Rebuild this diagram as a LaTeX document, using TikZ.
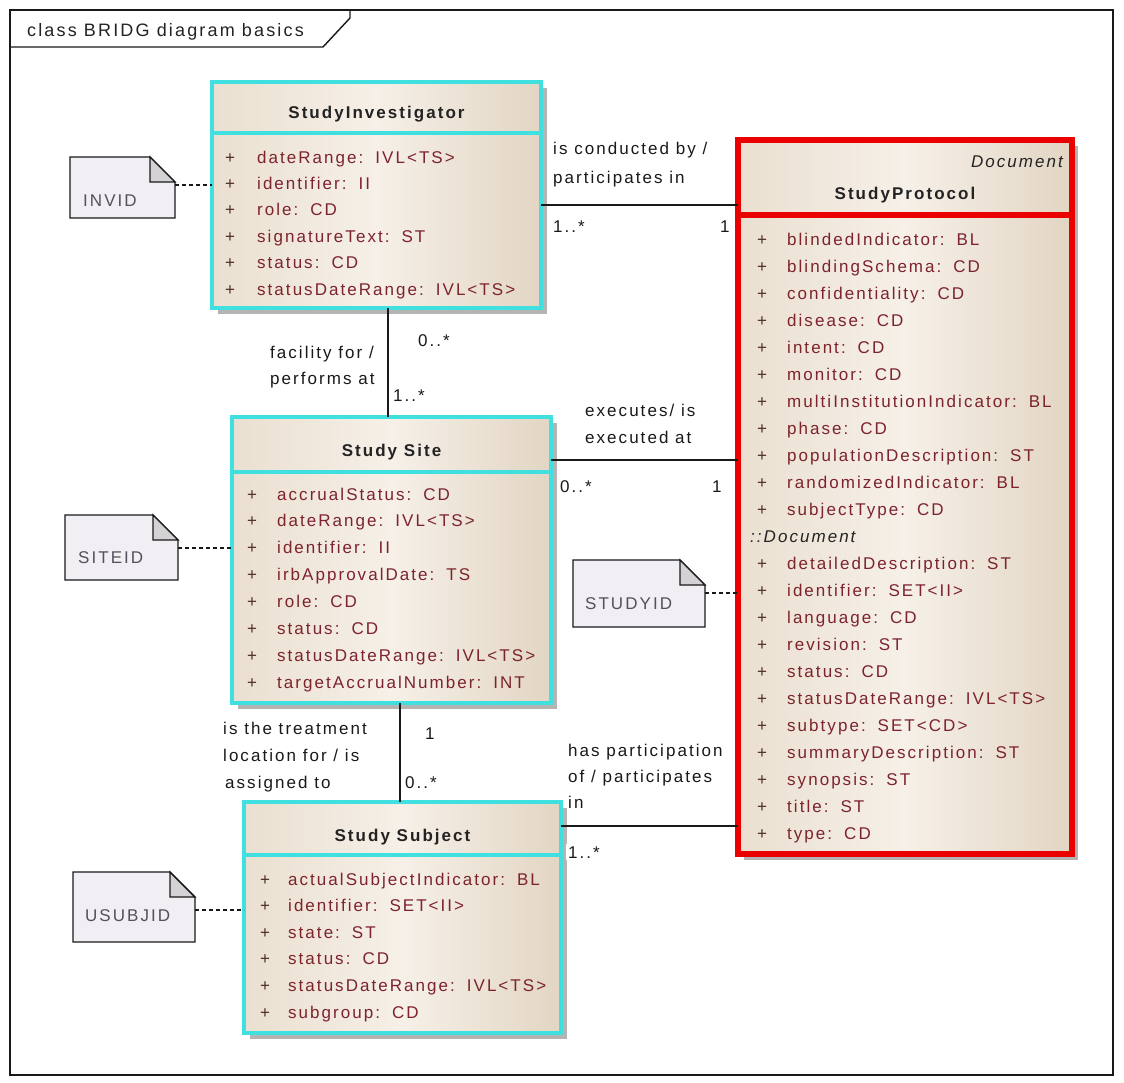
\documentclass[tikz,border=0pt]{standalone}
\usepackage{fontspec}
\setmainfont{Liberation Sans}[LetterSpace=12]
\usetikzlibrary{shadows}

\definecolor{umlcyan}{RGB}{64,224,224}
\definecolor{umlred}{RGB}{235,0,0}
\definecolor{boxA}{RGB}{234,223,208}
\definecolor{boxC}{RGB}{246,240,232}
\definecolor{boxB}{RGB}{226,213,195}
\definecolor{shadowgray}{RGB}{175,172,170}
\definecolor{attrcol}{RGB}{125,35,45}
\definecolor{pluscol}{RGB}{80,45,40}
\definecolor{titlecol}{RGB}{35,35,35}
\definecolor{notefill}{RGB}{241,239,243}
\definecolor{foldfill}{RGB}{212,210,212}
\definecolor{notetext}{RGB}{85,80,92}
\definecolor{linecol}{RGB}{25,25,25}

\newcommand\gap{\hspace*{12pt}}

% one row per attribute: #1 prefix, #2 x of "+", #3 x of name, #4 first baseline, #5 row step, #6 list
\newcommand\attrlist[6]{%
  \foreach \entry [count=\k from 0] in {#6}{%
    \pgfmathsetmacro\rowy{#4+#5*\k}%
    \node[aplus] (#1p\k) at (#2,\rowy) {+};
    \node[attr] (#1a\k) at (#3,\rowy) {\entry};
  }}

% dog-eared note outline around a named node
\newcommand\noteshape[1]{%
  \filldraw[noteline, fill=notefill] (#1.north west) -- ([xshift=-25pt]#1.north east)
    -- ([yshift=-25pt]#1.north east) -- (#1.south east) -- (#1.south west) -- cycle;
  \filldraw[noteline, fill=foldfill] ([xshift=-25pt]#1.north east)
    -- ([xshift=-25pt,yshift=-25pt]#1.north east) -- ([yshift=-25pt]#1.north east) -- cycle;}

\begin{document}
\begin{tikzpicture}[x=1pt,y=-1pt,
  font=\fontsize{17}{20}\selectfont,
  classbox/.style={rectangle, inner sep=0pt, outer sep=0pt, anchor=north west,
    left color=boxA, right color=boxB, middle color=boxC,
    drop shadow={shadow xshift=6pt, shadow yshift=-6pt, fill=shadowgray, opacity=0.9}},
  cyanbox/.style={classbox, draw=umlcyan, line width=4pt},
  redbox/.style={classbox, draw=umlred, line width=6pt},
  cyansep/.style={draw=umlcyan, line width=4pt},
  redsep/.style={draw=umlred, line width=6pt},
  attr/.style={anchor=base west, inner sep=0pt, text=attrcol},
  aplus/.style={anchor=base west, inner sep=0pt, text=pluscol},
  ctitle/.style={anchor=base, inner sep=0pt, font=\fontsize{17}{20}\selectfont\bfseries, text=titlecol},
  assoc/.style={draw=linecol, line width=1.4pt},
  notelink/.style={draw=linecol, line width=1.4pt, dash pattern=on 4pt off 3pt},
  noteline/.style={draw=linecol, line width=1.4pt, line join=miter},
  notebox/.style={rectangle, inner sep=0pt, outer sep=0pt, anchor=north west},
  notelbl/.style={anchor=base west, inner sep=0pt, text=notetext},
  lbl/.style={anchor=base west, inner sep=0pt, text=linecol},
  mult/.style={anchor=base west, inner sep=2pt, fill=white, text=linecol},
  frameline/.style={draw=linecol, line width=1.4pt}
]
\useasboundingbox (0,0) rectangle (1124,1082);
\fill[white] (0,0) rectangle (1124,1082);

% diagram frame and its name tab
\draw[frameline] (10,10) rectangle (1113,1075);
\draw[frameline] (10,47) -- (323,47) -- (350,18) -- (350,10);
\node[anchor=base west, inner sep=0pt, text=titlecol, font=\fontsize{18}{21}\selectfont] (frametitle) at (27,36) {class BRIDG diagram basics};

% class boxes
\node[cyanbox, minimum width=329pt, minimum height=226pt] (inv) at (212,82) {};
\draw[cyansep] ([yshift=-51pt]inv.north west) -- ([yshift=-51pt]inv.north east);
\node[ctitle] (invt) at (376.5,118) {StudyInvestigator};
\attrlist{inv}{225}{257}{163}{26.4}{dateRange:\gap IVL<TS>, identifier:\gap II, role:\gap CD,
  signatureText:\gap ST, status:\gap CD, statusDateRange:\gap IVL<TS>}

\node[cyanbox, minimum width=319pt, minimum height=286pt] (site) at (232,417) {};
\draw[cyansep] ([yshift=-55pt]site.north west) -- ([yshift=-55pt]site.north east);
\node[ctitle] (sitet) at (391.5,456) {Study Site};
\attrlist{site}{247}{277}{500}{26.9}{accrualStatus:\gap CD, dateRange:\gap IVL<TS>, identifier:\gap II,
  irbApprovalDate:\gap TS, role:\gap CD, status:\gap CD, statusDateRange:\gap IVL<TS>,
  targetAccrualNumber:\gap INT}

\node[cyanbox, minimum width=317pt, minimum height=231pt] (subj) at (244,802) {};
\draw[cyansep] ([yshift=-53pt]subj.north west) -- ([yshift=-53pt]subj.north east);
\node[ctitle] (subjt) at (402.5,841) {Study Subject};
\attrlist{subj}{260}{288}{885}{26.6}{actualSubjectIndicator:\gap BL, identifier:\gap SET<II>,
  state:\gap ST, status:\gap CD, statusDateRange:\gap IVL<TS>, subgroup:\gap CD}

\node[redbox, minimum width=334pt, minimum height=714pt] (proto) at (738,140) {};
\draw[redsep] ([yshift=-75pt]proto.north west) -- ([yshift=-75pt]proto.north east);
\node[anchor=base east, inner sep=0pt, text=titlecol, font=\fontsize{17}{20}\selectfont\itshape] (protos) at (1063,167) {Document};
\node[ctitle] (protot) at (905,199) {StudyProtocol};
\attrlist{protoA}{757}{787}{245}{27}{blindedIndicator:\gap BL, blindingSchema:\gap CD,
  confidentiality:\gap CD, disease:\gap CD, intent:\gap CD, monitor:\gap CD,
  multiInstitutionIndicator:\gap BL, phase:\gap CD, populationDescription:\gap ST,
  randomizedIndicator:\gap BL, subjectType:\gap CD}
\node[anchor=base west, inner sep=0pt, text=titlecol, font=\fontsize{17}{20}\selectfont\itshape] (protoinh) at (750,542) {::Document};
\attrlist{protoB}{757}{787}{569}{27}{detailedDescription:\gap ST, identifier:\gap SET<II>,
  language:\gap CD, revision:\gap ST, status:\gap CD, statusDateRange:\gap IVL<TS>,
  subtype:\gap SET<CD>, summaryDescription:\gap ST, synopsis:\gap ST, title:\gap ST, type:\gap CD}

% notes
\node[notebox, minimum width=105pt, minimum height=61pt] (invid) at (70,157) {};
\noteshape{invid}
\node[notelbl] (invidt) at (83,206) {INVID};
\node[notebox, minimum width=113pt, minimum height=65pt] (siteid) at (65,515) {};
\noteshape{siteid}
\node[notelbl] (siteidt) at (78,563) {SITEID};
\node[notebox, minimum width=132pt, minimum height=67pt] (studyid) at (573,560) {};
\noteshape{studyid}
\node[notelbl] (studyidt) at (585,609) {STUDYID};
\node[notebox, minimum width=122pt, minimum height=70pt] (usubjid) at (73,872) {};
\noteshape{usubjid}
\node[notelbl] (usubjidt) at (85,921) {USUBJID};

% note links
\draw[notelink] ([yshift=-28pt]invid.north east) -- ([yshift=-28pt]invid.north east -| inv.west);
\draw[notelink] ([yshift=-33pt]siteid.north east) -- ([yshift=-33pt]siteid.north east -| site.west);
\draw[notelink] ([yshift=-33pt]studyid.north east) -- ([yshift=-33pt]studyid.north east -| proto.west);
\draw[notelink] ([yshift=-38pt]usubjid.north east) -- ([yshift=-38pt]usubjid.north east -| subj.west);

% associations
\draw[assoc] ([yshift=-123pt]inv.north east) -- ([yshift=-123pt]inv.north east -| proto.west);
\draw[assoc] ([xshift=11.5pt]inv.south) -- ([xshift=11.5pt]inv.south |- site.north);
\draw[assoc] ([yshift=-43pt]site.north east) -- ([yshift=-43pt]site.north east -| proto.west);
\draw[assoc] ([xshift=8.5pt]site.south) -- ([xshift=8.5pt]site.south |- subj.north);
\draw[assoc] ([yshift=-24pt]subj.north east) -- ([yshift=-24pt]subj.north east -| proto.west);

% association labels
\node[lbl] (l1a) at (553,154) {is conducted by /};
\node[lbl] (l1b) at (553,183) {participates in};
\node[mult] (m1a) at (551,232) {1..*};
\node[mult] (m1b) at (718,232) {1};

\node[lbl] (l2a) at (270,358) {facility for /};
\node[lbl] (l2b) at (270,384) {performs at};
\node[mult] (m2a) at (416,346) {0..*};
\node[mult] (m2b) at (391,401) {1..*};

\node[lbl] (l3a) at (585,416) {executes/ is};
\node[lbl] (l3b) at (585,443) {executed at};
\node[mult] (m3a) at (558,492) {0..*};
\node[mult] (m3b) at (710,492) {1};

\node[lbl] (l4a) at (223,734) {is the treatment};
\node[lbl] (l4b) at (223,761) {location for / is};
\node[lbl] (l4c) at (225,788) {assigned to};
\node[mult] (m4a) at (423,739) {1};
\node[mult] (m4b) at (403,788) {0..*};

\node[lbl] (l5a) at (568,756) {has participation};
\node[lbl] (l5b) at (568,782) {of / participates};
\node[lbl] (l5c) at (568,808) {in};
\node[mult] (m5a) at (566,858) {1..*};
\end{tikzpicture}
\end{document}
